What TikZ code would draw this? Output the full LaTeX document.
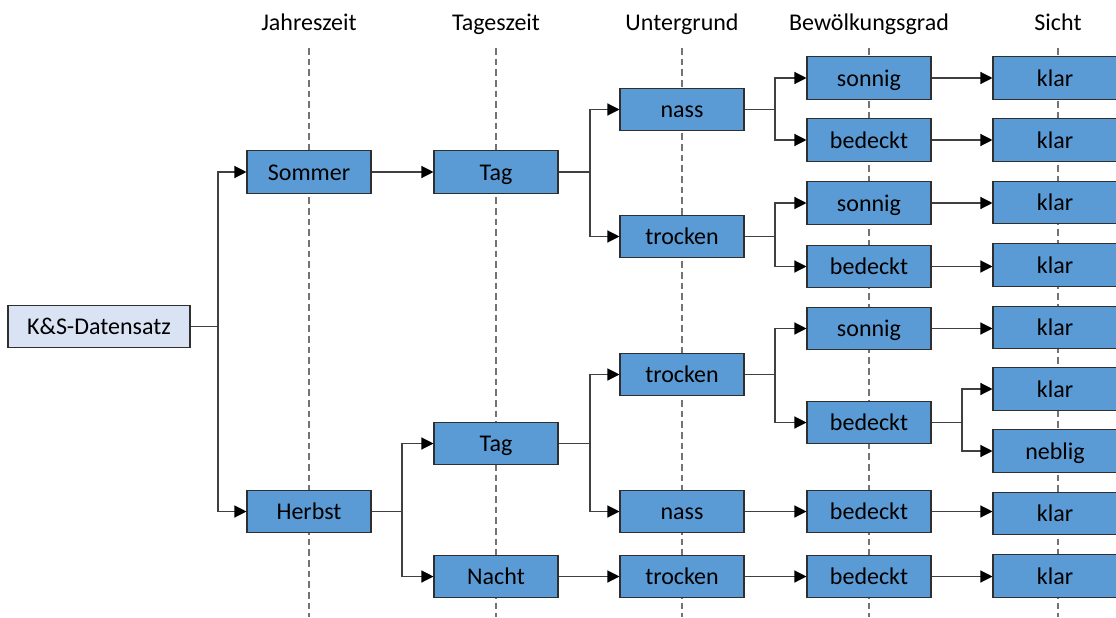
\documentclass[tikz,border=0pt]{standalone}
\usepackage{fontspec}
\setmainfont{Carlito}
\usetikzlibrary{arrows.meta,calc}
\definecolor{boxblue}{HTML}{5B9BD5}
\definecolor{boxlight}{HTML}{DAE3F3}
\definecolor{edge}{HTML}{2F2F2F}
\tikzset{
  box/.style={draw=edge, line width=0.8pt, fill=boxblue, minimum width=93pt, minimum height=32pt, inner sep=0pt, text height=12pt, text depth=0pt, font=\fontsize{18}{21}\selectfont},
  rootbox/.style={box, fill=boxlight, minimum width=136.5pt},
  head/.style={font=\fontsize{18}{21}\selectfont, inner sep=0pt, text height=12pt, text depth=0pt},
  guide/.style={draw=black!55, line width=0.8pt, dash pattern=on 5pt off 3pt},
  conn/.style={draw=black!75, line width=0.9pt},
  arr/.style={conn, -{Triangle[length=9pt,width=9pt,color=black]}},
}
\begin{document}
\begin{tikzpicture}[x=0.75pt,y=-0.75pt]
\useasboundingbox (0,0) rectangle (1116,617);
% column guides
\foreach \x/\n in {309/g1,496/g2,682/g3,869/g4,1058/g5}{
  \coordinate (\n t) at (\x,48);
  \coordinate (\n b) at (\x,617);
  \draw[guide] (\n t) -- (\n b);
}
% headers
\node[head] (h1) at (309,23) {Jahreszeit};
\node[head] (h2) at (496,23) {Tageszeit};
\node[head] (h3) at (682,23) {Untergrund};
\node[head] (h4) at (869,23) {Bewölkungsgrad};
\node[head] (h5) at (1058,23) {Sicht};
% nodes
\node[rootbox] (ks) at (99,326.5) {K\&S-Datensatz};
\node[box] (sommer) at (309,172) {Sommer};
\node[box] (herbst) at (309,511.5) {Herbst};
\node[box] (tag1) at (496,172) {Tag};
\node[box] (tag2) at (496,443.5) {Tag};
\node[box] (nacht) at (496,576.5) {Nacht};
\node[box] (nass1) at (682,109.5) {nass};
\node[box] (tro1) at (682,236.5) {trocken};
\node[box] (tro2) at (682,374.5) {trocken};
\node[box] (nass2) at (682,511.5) {nass};
\node[box] (tro3) at (682,576.5) {trocken};
\node[box] (son1) at (869,78) {sonnig};
\node[box] (bed1) at (869,140) {bedeckt};
\node[box] (son2) at (869,203) {sonnig};
\node[box] (bed2) at (869,266.5) {bedeckt};
\node[box] (son3) at (869,328.5) {sonnig};
\node[box] (bed3) at (869,422.5) {bedeckt};
\node[box] (bed4) at (869,511.5) {bedeckt};
\node[box] (bed5) at (869,576.5) {bedeckt};
\node[box] (k1) at (1055,78) {klar};
\node[box] (k2) at (1055,140) {klar};
\node[box] (k3) at (1055,202.5) {klar};
\node[box] (k4) at (1055,265) {klar};
\node[box] (k5) at (1055,327.5) {klar};
\node[box] (k6) at (1055,389) {klar};
\node[box] (neb) at (1055,451) {neblig};
\node[box] (k7) at (1055,513.5) {klar};
\node[box] (k8) at (1055,576) {klar};
% split columns
\coordinate (s1) at (218,0);
\coordinate (s2) at (402,0);
\coordinate (s3) at (590,0);
\coordinate (s4) at (775,0);
\coordinate (s5) at (962,0);
% connectors
\draw[arr] (ks.east) -- (ks.east -| s1) |- (sommer.west);
\draw[arr] (ks.east -| s1) |- (herbst.west);
\draw[arr] (sommer) -- (tag1);
\draw[arr] (herbst.east) -- (herbst.east -| s2) |- (tag2.west);
\draw[arr] (herbst.east -| s2) |- (nacht.west);
\draw[arr] (tag1.east) -- (tag1.east -| s3) |- (nass1.west);
\draw[arr] (tag1.east -| s3) |- (tro1.west);
\draw[arr] (tag2.east) -- (tag2.east -| s3) |- (tro2.west);
\draw[arr] (tag2.east -| s3) |- (nass2.west);
\draw[arr] (nacht) -- (tro3);
\draw[arr] (nass1.east) -- (nass1.east -| s4) |- (son1.west);
\draw[arr] (nass1.east -| s4) |- (bed1.west);
\draw[arr] (tro1.east) -- (tro1.east -| s4) |- (son2.west);
\draw[arr] (tro1.east -| s4) |- (bed2.west);
\draw[arr] (tro2.east) -- (tro2.east -| s4) |- (son3.west);
\draw[arr] (tro2.east -| s4) |- (bed3.west);
\draw[arr] (nass2) -- (bed4);
\draw[arr] (tro3) -- (bed5);
\draw[arr] (son1) -- (k1);
\draw[arr] (bed1) -- (k2);
\draw[arr] (son2.east) -- (son2.east -| k3.west);
\draw[arr] (bed2.east) -- (bed2.east -| k4.west);
\draw[arr] (son3.east) -- (son3.east -| k5.west);
\draw[arr] (bed3.east) -- (bed3.east -| s5) |- (k6.west);
\draw[arr] (bed3.east -| s5) |- (neb.west);
\draw[arr] (bed4.east) -- (bed4.east -| k7.west);
\draw[arr] (bed5.east) -- (bed5.east -| k8.west);
\end{tikzpicture}
\end{document}
